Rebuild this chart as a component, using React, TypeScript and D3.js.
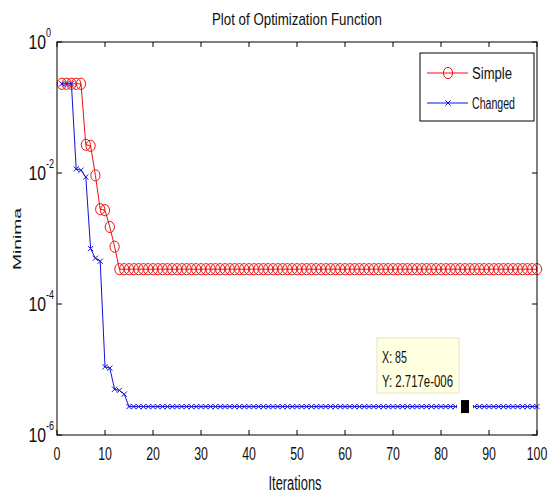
import React from 'react';
import * as d3 from 'd3';

const iterations = [
  1, 2, 3, 4, 5, 6, 7, 8, 9, 10, 11, 12, 13, 14, 15, 16, 17, 18, 19, 20,
  21, 22, 23, 24, 25, 26, 27, 28, 29, 30, 31, 32, 33, 34, 35, 36, 37, 38, 39, 40,
  41, 42, 43, 44, 45, 46, 47, 48, 49, 50, 51, 52, 53, 54, 55, 56, 57, 58, 59, 60,
  61, 62, 63, 64, 65, 66, 67, 68, 69, 70, 71, 72, 73, 74, 75, 76, 77, 78, 79, 80,
  81, 82, 83, 84, 85, 86, 87, 88, 89, 90, 91, 92, 93, 94, 95, 96, 97, 98, 99, 100,
];

const simpleValues = [
  0.23, 0.23, 0.23, 0.23, 0.23, 0.027, 0.026, 0.0092, 0.0028, 0.0027,
  0.0015, 0.00075, 3.4e-4, 3.4e-4, 3.4e-4, 3.4e-4, 3.4e-4, 3.4e-4, 3.4e-4, 3.4e-4,
  3.4e-4, 3.4e-4, 3.4e-4, 3.4e-4, 3.4e-4, 3.4e-4, 3.4e-4, 3.4e-4, 3.4e-4, 3.4e-4,
  3.4e-4, 3.4e-4, 3.4e-4, 3.4e-4, 3.4e-4, 3.4e-4, 3.4e-4, 3.4e-4, 3.4e-4, 3.4e-4,
  3.4e-4, 3.4e-4, 3.4e-4, 3.4e-4, 3.4e-4, 3.4e-4, 3.4e-4, 3.4e-4, 3.4e-4, 3.4e-4,
  3.4e-4, 3.4e-4, 3.4e-4, 3.4e-4, 3.4e-4, 3.4e-4, 3.4e-4, 3.4e-4, 3.4e-4, 3.4e-4,
  3.4e-4, 3.4e-4, 3.4e-4, 3.4e-4, 3.4e-4, 3.4e-4, 3.4e-4, 3.4e-4, 3.4e-4, 3.4e-4,
  3.4e-4, 3.4e-4, 3.4e-4, 3.4e-4, 3.4e-4, 3.4e-4, 3.4e-4, 3.4e-4, 3.4e-4, 3.4e-4,
  3.4e-4, 3.4e-4, 3.4e-4, 3.4e-4, 3.4e-4, 3.4e-4, 3.4e-4, 3.4e-4, 3.4e-4, 3.4e-4,
  3.4e-4, 3.4e-4, 3.4e-4, 3.4e-4, 3.4e-4, 3.4e-4, 3.4e-4, 3.4e-4, 3.4e-4, 3.4e-4,
];

const changedValues = [
  0.23, 0.23, 0.23, 0.0115, 0.011, 0.0087, 0.0007, 0.0005, 0.00045, 1.1e-5,
  1.05e-5, 5.0e-6, 4.8e-6, 4.2e-6, 2.717e-6, 2.717e-6, 2.717e-6, 2.717e-6, 2.717e-6, 2.717e-6,
  2.717e-6, 2.717e-6, 2.717e-6, 2.717e-6, 2.717e-6, 2.717e-6, 2.717e-6, 2.717e-6, 2.717e-6, 2.717e-6,
  2.717e-6, 2.717e-6, 2.717e-6, 2.717e-6, 2.717e-6, 2.717e-6, 2.717e-6, 2.717e-6, 2.717e-6, 2.717e-6,
  2.717e-6, 2.717e-6, 2.717e-6, 2.717e-6, 2.717e-6, 2.717e-6, 2.717e-6, 2.717e-6, 2.717e-6, 2.717e-6,
  2.717e-6, 2.717e-6, 2.717e-6, 2.717e-6, 2.717e-6, 2.717e-6, 2.717e-6, 2.717e-6, 2.717e-6, 2.717e-6,
  2.717e-6, 2.717e-6, 2.717e-6, 2.717e-6, 2.717e-6, 2.717e-6, 2.717e-6, 2.717e-6, 2.717e-6, 2.717e-6,
  2.717e-6, 2.717e-6, 2.717e-6, 2.717e-6, 2.717e-6, 2.717e-6, 2.717e-6, 2.717e-6, 2.717e-6, 2.717e-6,
  2.717e-6, 2.717e-6, 2.717e-6, 2.717e-6, 2.717e-6, 2.717e-6, 2.717e-6, 2.717e-6, 2.717e-6, 2.717e-6,
  2.717e-6, 2.717e-6, 2.717e-6, 2.717e-6, 2.717e-6, 2.717e-6, 2.717e-6, 2.717e-6, 2.717e-6, 2.717e-6,
];

const xTicks = [0, 10, 20, 30, 40, 50, 60, 70, 80, 90, 100];
const yTicks = [1, 1e-2, 1e-4, 1e-6];
const yTickExponents = ['0', '-2', '-4', '-6'];
const seriesNames = ['Simple', 'Changed'];
const tipIteration = 85;
const tipLabels = ['X: 85', 'Y: 2.717e-006'];

const W = 549;
const H = 493;
const L = 57, R = 537, T = 42, B = 435;
const FONT = 'Liberation Sans, Arial, Helvetica, sans-serif';
const RED = '#ee1111';
const BLUE = '#1111dd';

export default function App() {
  const x = d3.scaleLinear().domain([0, 100]).range([L, R]);
  const y = d3.scaleLog().domain([1e-6, 1]).range([B, T]);

  const simple = iterations.map((it, i) => [it, simpleValues[i]] as [number, number]);
  const changed = iterations.map((it, i) => [it, changedValues[i]] as [number, number]);
  const line = d3.line<[number, number]>().x(d => x(d[0])).y(d => y(d[1]));

  const tipX = x(tipIteration);
  const tipY = y(changedValues[tipIteration - 1]);

  const cross = (cx: number, cy: number, s: number, key: any) => (
    <path key={key} d={`M${cx - s},${cy - s}L${cx + s},${cy + s}M${cx - s},${cy + s}L${cx + s},${cy - s}`}
      stroke={BLUE} strokeWidth={1} fill="none" />
  );

  return (
    <svg width={W} height={H} style={{ position: 'absolute', left: 0, top: 0, background: '#fff' }}>
      <rect x={0} y={0} width={W} height={H} fill="#fff" />
      {/* title */}
      <text x={297} y={25} textAnchor="middle" fontFamily={FONT} fontSize={17}
        textLength={170} lengthAdjust="spacingAndGlyphs" fill="#111">Plot of Optimization Function</text>

      {/* lines */}
      <path d={line(simple) || ''} fill="none" stroke={RED} strokeWidth={1} />
      <path d={line(changed) || ''} fill="none" stroke={BLUE} strokeWidth={1} />
      {simple.map((d, i) => (
        <ellipse key={'s' + i} cx={x(d[0])} cy={y(d[1])} rx={4.6} ry={5.6} fill="none" stroke={RED} strokeWidth={1} />
      ))}
      {changed.map((d, i) => cross(x(d[0]), y(d[1]), 2.6, 'c' + i))}

      {/* axes box */}
      <rect x={L} y={T} width={R - L} height={B - T} fill="none" stroke="#000" strokeWidth={1} />
      {xTicks.map(t => (
        <g key={'xt' + t}>
          <line x1={x(t)} x2={x(t)} y1={B} y2={B - 5} stroke="#000" />
          <line x1={x(t)} x2={x(t)} y1={T} y2={T + 5} stroke="#000" />
          <text transform={`translate(${x(t)},460) scale(0.65,1)`} textAnchor="middle"
            fontFamily={FONT} fontSize={19} fill="#111">{t}</text>
        </g>
      ))}
      {yTicks.map((t, i) => (
        <g key={'yt' + i}>
          <line x1={L} x2={L + 5} y1={y(t)} y2={y(t)} stroke="#000" />
          <line x1={R} x2={R - 5} y1={y(t)} y2={y(t)} stroke="#000" />
          <text transform={`translate(46,${y(t) + 7}) scale(0.79,1)`} textAnchor="end"
            fontFamily={FONT} fontSize={20} fill="#111">10</text>
          <text transform={`translate(46,${y(t) - 5}) scale(0.75,1)`} textAnchor="start"
            fontFamily={FONT} fontSize={12} fill="#111">{yTickExponents[i]}</text>
        </g>
      ))}

      {/* axis labels */}
      <text x={295} y={490} textAnchor="middle" fontFamily={FONT} fontSize={20}
        textLength={53} lengthAdjust="spacingAndGlyphs" fill="#111">Iterations</text>
      <text transform={`translate(21,239) scale(0.68,1) rotate(-90)`} textAnchor="middle"
        fontFamily={FONT} fontSize={17} textLength={62} lengthAdjust="spacingAndGlyphs" fill="#111">Minima</text>

      {/* legend */}
      <rect x={420} y={53} width={114} height={68} fill="#fff" stroke="#000" strokeWidth={1} />
      <line x1={427} x2={468} y1={73} y2={73} stroke={RED} />
      <ellipse cx={448} cy={73} rx={4.6} ry={5.6} fill="none" stroke={RED} />
      <text x={472} y={79} fontFamily={FONT} fontSize={16} textLength={40} lengthAdjust="spacingAndGlyphs" fill="#111">{seriesNames[0]}</text>
      <line x1={427} x2={468} y1={103} y2={103} stroke={BLUE} />
      {cross(448, 103, 2.6, 'lg')}
      <text x={472} y={109} fontFamily={FONT} fontSize={16} textLength={43} lengthAdjust="spacingAndGlyphs" fill="#111">{seriesNames[1]}</text>

      {/* datatip */}
      <rect x={tipX - 8} y={tipY - 8} width={16} height={16} fill="#fffff2" />
      <rect x={tipX - 4} y={tipY - 6.5} width={8} height={13} fill="#000" />
      <rect x={377} y={338} width={82} height={55} fill="#ffffe1" stroke="#e4e4c8" strokeWidth={1} />
      <text x={382} y={363} fontFamily={FONT} fontSize={16} textLength={25} lengthAdjust="spacingAndGlyphs" fill="#111">{tipLabels[0]}</text>
      <text x={382} y={387} fontFamily={FONT} fontSize={16} textLength={71} lengthAdjust="spacingAndGlyphs" fill="#111">{tipLabels[1]}</text>
    </svg>
  );
}
